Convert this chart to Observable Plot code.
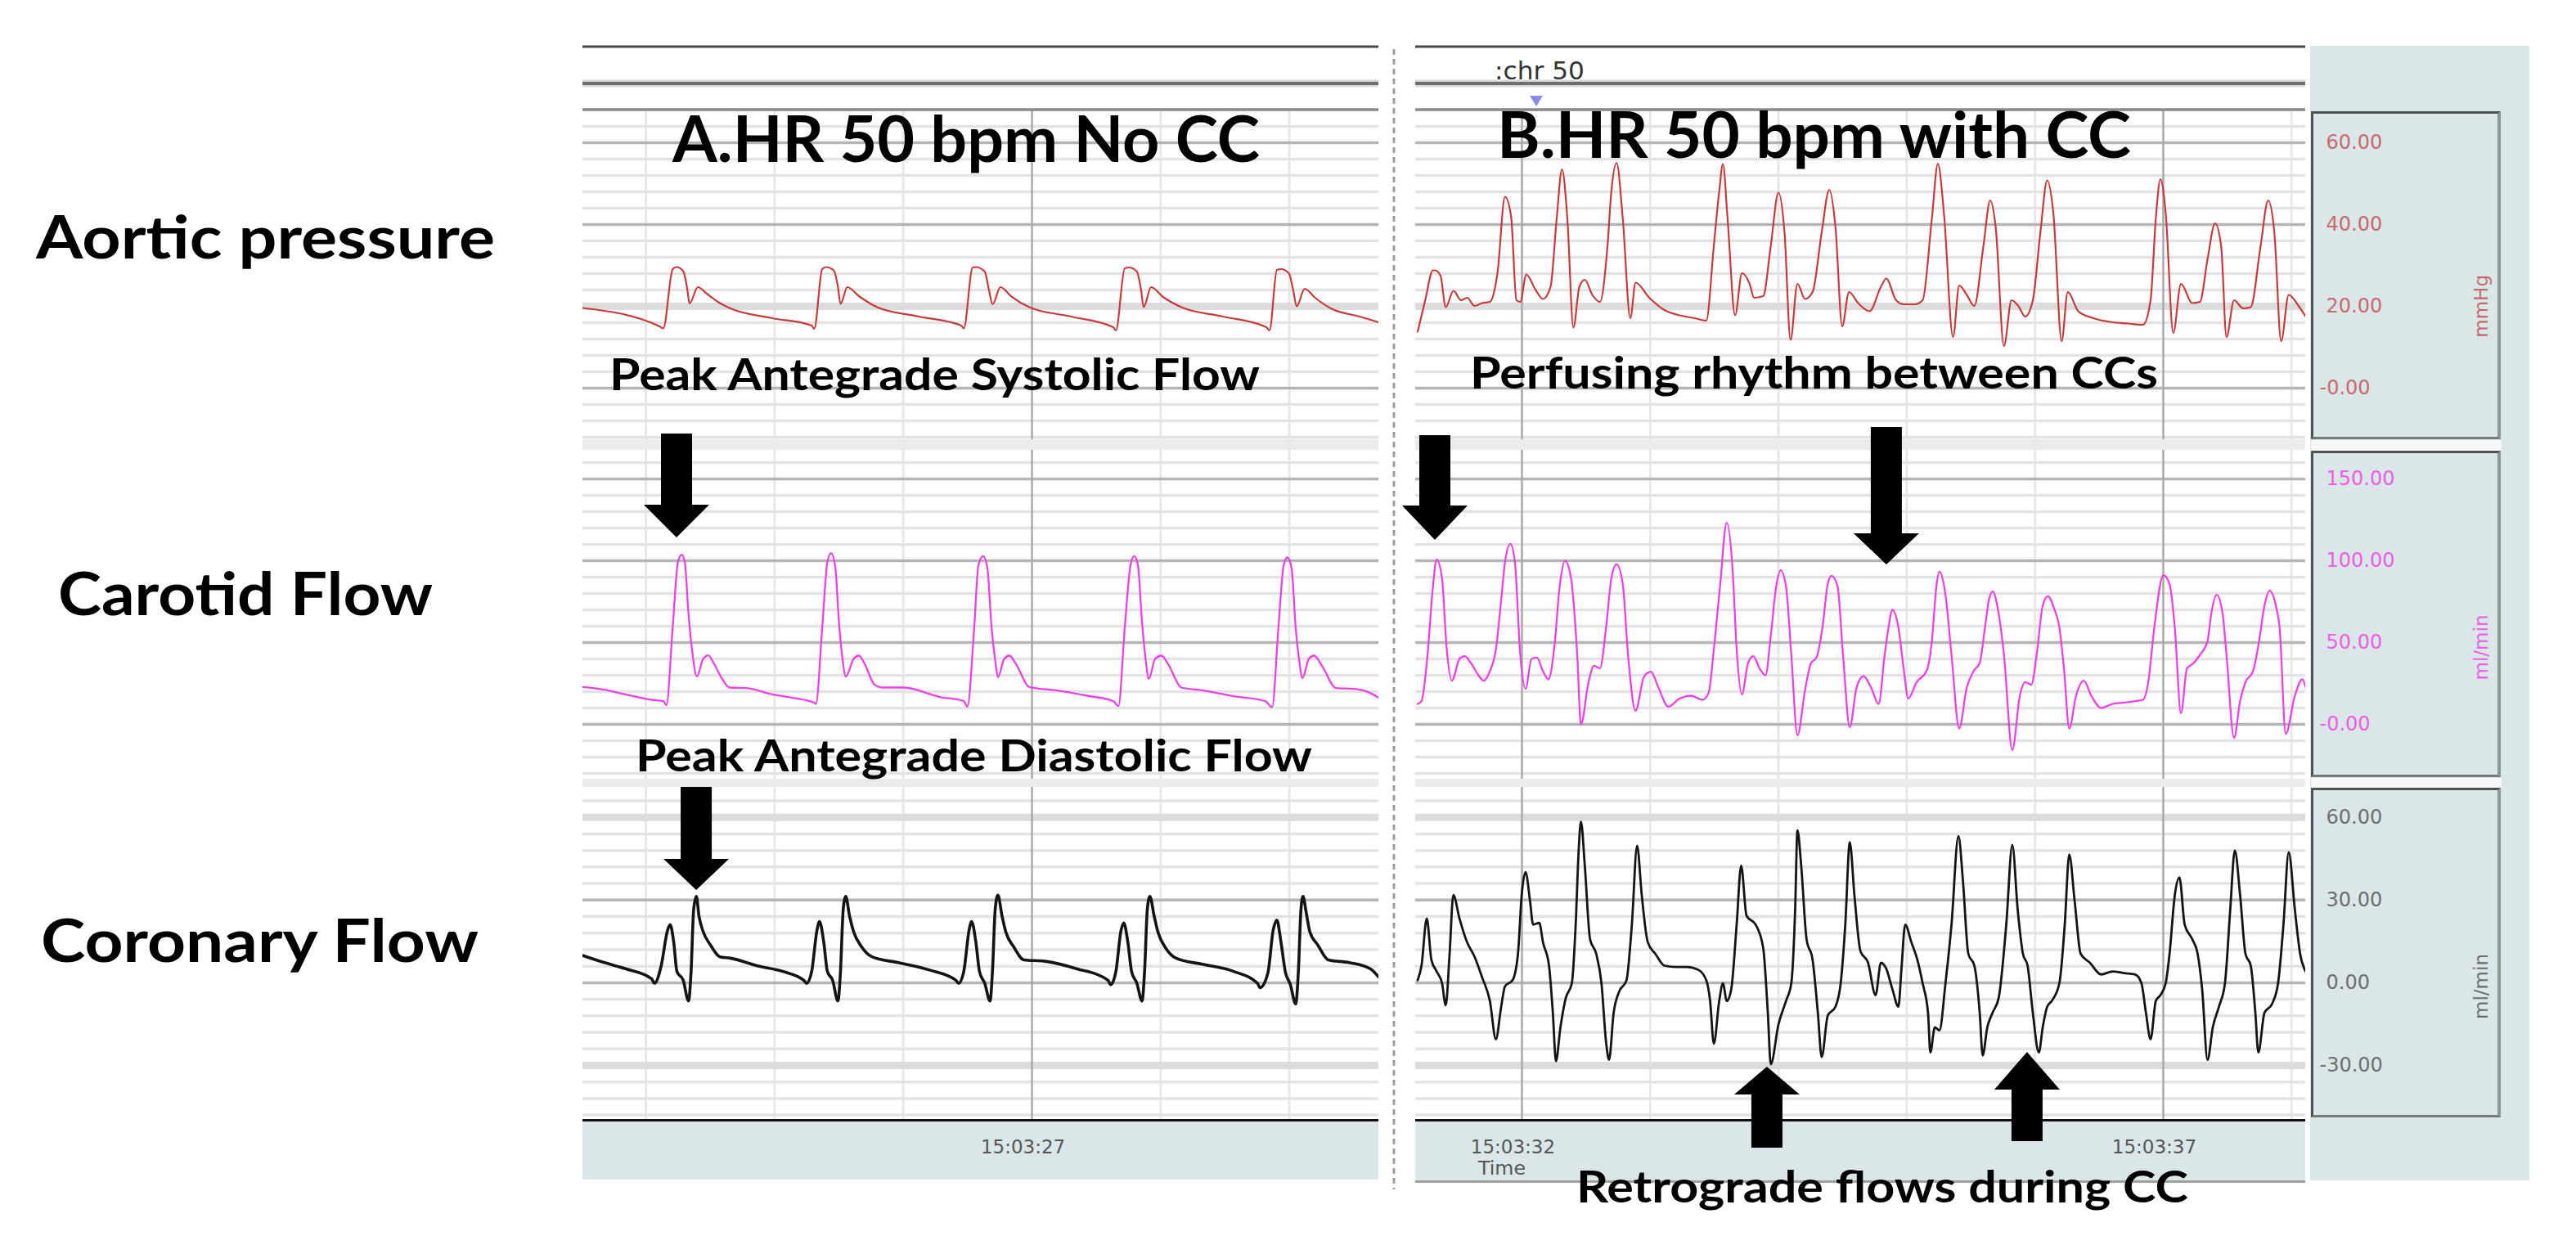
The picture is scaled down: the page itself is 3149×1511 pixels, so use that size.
<!DOCTYPE html>
<html>
<head>
<meta charset="utf-8">
<script src="https://cdn.jsdelivr.net/npm/d3@7"></script>
<script src="https://cdn.jsdelivr.net/npm/@observablehq/plot@0.6"></script>
<style>
html, body { margin: 0; padding: 0; background: #fff; }
#root { position: relative; width: 3149px; height: 1511px; overflow: hidden; background: #fff; }
#root svg { max-width: none; }
</style>
</head>
<body>
<div id="root"></div>
<script>
// ---------------- DATA (time in seconds after 15:03:00, value in channel units) ----------------
const aorticA = [[23.51,19.6],[24.106,15.1],[24.135,14.6],[24.208,29.1],[24.237,29.6],[24.29,28.6],[24.322,24.1],[24.339,20.7],[24.404,24.7],[24.473,23.1],[24.575,20.8],[24.657,19.5],[24.983,17.1],[25.288,15.3],[25.308,14.5],[25.37,29.1],[25.402,29.6],[25.459,28.8],[25.492,24.8],[25.512,20.6],[25.565,24.7],[25.655,22.5],[25.797,19.8],[26.123,17.5],[26.449,15.3],[26.47,14.6],[26.539,29.5],[26.564,29.6],[26.633,28.5],[26.665,24.1],[26.694,20.5],[26.755,24.7],[26.837,22.5],[26.979,19.8],[27.305,17.5],[27.631,14.9],[27.652,14.1],[27.721,29.3],[27.754,29.5],[27.815,28.5],[27.847,24.1],[27.868,19.8],[27.925,24.7],[28.018,22.3],[28.161,19.8],[28.487,17.5],[28.821,14.9],[28.846,14.1],[28.903,28.9],[28.935,29.1],[28.996,28.1],[29.029,24.1],[29.057,20.0],[29.119,24.3],[29.2,22.1],[29.322,19.5],[29.546,17.5],[29.695,16.1]];

const carotidA = [[23.507,22.8],[23.638,21.7],[23.841,18.3],[24.045,15.0],[24.135,14.2],[24.159,11.7],[24.208,59.2],[24.249,99.2],[24.278,103.7],[24.302,99.2],[24.331,67.5],[24.363,42.5],[24.396,29.2],[24.445,40.0],[24.485,42.2],[24.526,37.5],[24.595,27.5],[24.648,22.5],[24.779,22.2],[24.983,18.3],[25.227,15.0],[25.308,13.3],[25.321,12.5],[25.37,59.2],[25.41,99.2],[25.439,104.7],[25.472,95.8],[25.5,62.5],[25.524,42.5],[25.553,29.2],[25.614,40.0],[25.655,42.0],[25.696,37.5],[25.777,24.2],[25.838,22.5],[26.001,22.5],[26.286,16.7],[26.47,14.2],[26.498,10.8],[26.551,59.2],[26.584,97.5],[26.621,102.8],[26.653,95.8],[26.686,59.2],[26.714,39.2],[26.735,28.8],[26.784,40.0],[26.824,42.0],[26.877,36.7],[26.979,22.8],[27.183,20.8],[27.428,17.5],[27.631,14.2],[27.672,11.2],[27.721,59.2],[27.766,97.5],[27.794,102.8],[27.823,97.5],[27.855,62.5],[27.884,39.2],[27.908,27.8],[27.957,40.0],[28.006,42.0],[28.059,36.7],[28.161,22.5],[28.324,20.8],[28.568,17.2],[28.813,14.2],[28.866,10.5],[28.915,59.2],[28.956,97.5],[28.984,102.0],[29.017,95.8],[29.049,59.2],[29.078,38.3],[29.102,28.3],[29.151,40.0],[29.192,42.0],[29.253,35.8],[29.363,22.2],[29.506,21.7],[29.628,19.2],[29.695,16.2]];

const coronaryA = [[23.507,9.9],[23.678,7.3],[23.841,5.1],[24.045,1.4],[24.066,-0.2],[24.119,6.2],[24.168,19.0],[24.188,21.1],[24.216,14.7],[24.241,4.1],[24.29,0.9],[24.331,-6.6],[24.351,4.1],[24.371,26.5],[24.392,31.3],[24.412,24.3],[24.445,18.5],[24.502,13.7],[24.575,9.4],[24.657,8.9],[24.86,6.2],[25.064,4.1],[25.227,0.9],[25.247,-0.2],[25.288,4.1],[25.329,19.0],[25.349,22.2],[25.382,14.7],[25.41,4.1],[25.451,0.9],[25.492,-6.6],[25.512,4.1],[25.533,26.5],[25.553,31.3],[25.582,24.3],[25.614,18.5],[25.675,13.1],[25.757,9.4],[25.961,7.3],[26.205,4.6],[26.409,0.9],[26.429,-0.2],[26.47,4.1],[26.511,19.0],[26.531,22.2],[26.564,14.7],[26.592,4.1],[26.633,-0.2],[26.674,-6.6],[26.694,5.1],[26.714,26.5],[26.735,31.8],[26.767,24.3],[26.796,18.5],[26.857,13.1],[26.938,8.3],[27.101,7.8],[27.346,5.1],[27.591,0.9],[27.611,-0.7],[27.652,4.1],[27.692,19.0],[27.713,21.7],[27.745,14.7],[27.774,4.1],[27.815,-0.2],[27.855,-6.6],[27.876,5.1],[27.896,26.5],[27.916,31.3],[27.949,24.3],[27.978,18.5],[28.039,12.6],[28.12,8.9],[28.324,6.7],[28.568,4.1],[28.752,-0.2],[28.772,-1.8],[28.833,3.5],[28.874,19.0],[28.903,22.7],[28.935,14.7],[28.968,4.1],[29.008,-0.7],[29.049,-7.7],[29.07,4.1],[29.09,26.5],[29.106,31.3],[29.131,25.4],[29.159,18.5],[29.221,13.7],[29.302,8.3],[29.465,7.3],[29.628,5.1],[29.695,2.0]];

const aorticB = [[31.187,13.8],[31.246,21.5],[31.306,28.8],[31.323,28.8],[31.365,27.5],[31.406,19.8],[31.466,23.8],[31.525,21.5],[31.572,22.1],[31.631,20.1],[31.69,20.8],[31.75,21.1],[31.809,28.1],[31.868,46.8],[31.915,42.1],[31.957,21.5],[31.987,21.1],[32.034,27.8],[32.105,24.1],[32.164,21.8],[32.223,24.8],[32.271,41.5],[32.312,53.5],[32.354,41.5],[32.401,14.8],[32.448,24.8],[32.49,26.5],[32.549,22.8],[32.608,21.1],[32.667,34.8],[32.697,48.1],[32.738,55.1],[32.786,41.5],[32.845,17.1],[32.886,25.8],[32.993,22.1],[33.111,19.1],[33.23,17.8],[33.348,17.1],[33.437,16.5],[33.496,34.8],[33.538,48.1],[33.567,54.8],[33.603,41.5],[33.662,17.8],[33.715,28.1],[33.775,25.5],[33.81,22.1],[33.881,22.5],[33.94,34.8],[34.0,47.8],[34.047,38.1],[34.094,11.8],[34.148,25.5],[34.207,21.8],[34.266,23.5],[34.337,38.1],[34.396,48.5],[34.444,39.5],[34.497,15.1],[34.55,23.5],[34.621,20.8],[34.71,18.8],[34.799,24.8],[34.84,26.8],[34.917,21.5],[34.976,20.5],[35.065,20.5],[35.124,21.5],[35.196,41.5],[35.243,54.9],[35.29,42.8],[35.361,12.5],[35.409,25.1],[35.468,22.8],[35.527,20.1],[35.598,34.8],[35.651,45.9],[35.693,39.5],[35.758,10.3],[35.817,21.5],[35.87,20.1],[35.924,17.5],[35.983,21.5],[36.042,38.1],[36.095,50.8],[36.143,42.8],[36.208,11.5],[36.255,23.5],[36.338,18.8],[36.457,17.1],[36.605,16.1],[36.723,15.8],[36.842,15.5],[36.901,21.5],[36.942,41.5],[36.978,51.1],[37.019,42.8],[37.078,13.5],[37.138,25.5],[37.226,20.8],[37.286,21.1],[37.345,31.5],[37.404,40.3],[37.451,34.8],[37.493,12.5],[37.552,21.5],[37.623,19.5],[37.682,19.8],[37.759,34.8],[37.818,45.9],[37.866,38.1],[37.919,11.5],[37.978,22.8],[38.055,20.1],[38.11,17.5]];

const carotidB = [[31.187,12.5],[31.217,14.2],[31.264,42.5],[31.306,84.2],[31.335,100.7],[31.377,89.2],[31.412,47.5],[31.454,26.7],[31.513,40.0],[31.554,41.7],[31.602,37.5],[31.661,30.0],[31.702,26.7],[31.75,32.5],[31.797,45.8],[31.838,75.8],[31.868,99.2],[31.91,110.3],[31.945,99.2],[31.987,42.5],[32.028,21.7],[32.075,40.0],[32.117,40.8],[32.164,32.5],[32.206,27.5],[32.253,47.5],[32.294,84.2],[32.336,100.0],[32.383,89.2],[32.431,42.5],[32.46,0.0],[32.519,25.8],[32.561,35.8],[32.608,34.2],[32.656,59.2],[32.697,89.2],[32.738,97.8],[32.786,85.8],[32.827,42.5],[32.886,8.3],[32.952,29.2],[33.005,32.2],[33.064,22.5],[33.141,10.8],[33.23,15.8],[33.319,17.5],[33.407,15.0],[33.455,19.2],[33.496,45.8],[33.544,84.2],[33.597,123.3],[33.644,92.5],[33.674,45.8],[33.715,18.3],[33.763,37.5],[33.804,41.7],[33.852,34.2],[33.899,30.0],[33.94,54.2],[33.982,84.2],[34.017,94.2],[34.059,84.2],[34.1,42.5],[34.148,-6.7],[34.207,20.8],[34.254,37.5],[34.296,40.8],[34.343,59.2],[34.384,85.8],[34.414,90.8],[34.461,84.2],[34.503,42.5],[34.556,-1.7],[34.609,22.5],[34.663,29.5],[34.722,22.5],[34.781,12.5],[34.828,42.5],[34.858,59.2],[34.888,70.0],[34.935,59.2],[34.976,34.2],[35.012,15.8],[35.077,25.8],[35.154,32.5],[35.196,50.8],[35.231,84.2],[35.255,93.3],[35.302,79.2],[35.349,42.5],[35.409,-2.5],[35.468,22.5],[35.521,32.5],[35.569,37.5],[35.61,59.2],[35.64,75.8],[35.669,81.2],[35.717,67.5],[35.758,42.5],[35.823,-15.8],[35.882,17.5],[35.924,25.8],[35.971,24.2],[36.013,42.5],[36.06,72.5],[36.101,78.3],[36.149,70.8],[36.19,59.2],[36.226,34.2],[36.267,-2.5],[36.32,17.5],[36.38,26.7],[36.439,17.5],[36.516,10.0],[36.605,12.5],[36.693,13.3],[36.782,14.2],[36.842,15.0],[36.883,25.8],[36.93,59.2],[37.001,91.2],[37.049,85.8],[37.09,59.2],[37.138,6.7],[37.185,34.2],[37.238,37.5],[37.286,42.5],[37.345,50.8],[37.374,67.5],[37.416,79.2],[37.463,67.5],[37.493,42.5],[37.552,-8.3],[37.599,14.2],[37.641,25.8],[37.7,32.5],[37.747,50.8],[37.789,72.5],[37.83,81.7],[37.878,72.5],[37.907,59.2],[37.955,-5.8],[38.026,17.5],[38.085,27.5],[38.11,22.5]];

const coronaryB = [[31.187,0.9],[31.217,6.2],[31.258,23.3],[31.294,8.3],[31.335,4.1],[31.377,-0.2],[31.406,-8.2],[31.436,10.5],[31.465,31.8],[31.513,23.3],[31.572,14.7],[31.631,9.4],[31.69,1.9],[31.75,-6.6],[31.797,-20.5],[31.838,-8.7],[31.868,-1.3],[31.927,0.9],[31.969,10.5],[31.998,31.8],[32.028,40.1],[32.063,29.7],[32.087,21.1],[32.135,21.7],[32.164,14.7],[32.211,6.2],[32.241,-10.9],[32.265,-28.5],[32.3,-16.2],[32.342,-5.5],[32.389,-0.2],[32.419,21.1],[32.442,47.8],[32.46,58.5],[32.49,42.5],[32.531,15.8],[32.579,10.5],[32.62,-0.2],[32.656,-21.6],[32.679,-28.0],[32.715,-10.9],[32.756,-3.4],[32.815,0.9],[32.857,21.1],[32.898,49.7],[32.934,31.8],[32.981,14.7],[33.04,10.5],[33.111,6.2],[33.2,5.7],[33.289,5.7],[33.378,4.6],[33.437,0.9],[33.467,-6.6],[33.496,-22.1],[33.538,-6.6],[33.567,-0.2],[33.597,-6.6],[33.632,-2.3],[33.674,21.1],[33.709,42.5],[33.751,24.3],[33.822,21.1],[33.881,12.6],[33.917,-10.9],[33.94,-29.6],[34.0,-15.1],[34.059,-6.6],[34.1,-0.2],[34.13,26.5],[34.148,55.3],[34.177,42.5],[34.219,15.8],[34.266,8.3],[34.307,-10.9],[34.337,-26.9],[34.384,-12.0],[34.444,-8.7],[34.485,-0.2],[34.521,21.1],[34.556,51.0],[34.592,31.8],[34.639,11.5],[34.698,7.3],[34.757,-4.5],[34.799,7.3],[34.84,5.1],[34.888,-2.3],[34.935,-8.7],[34.959,5.1],[34.988,21.1],[35.036,14.7],[35.083,8.3],[35.124,-0.2],[35.166,-10.9],[35.184,-25.3],[35.219,-16.2],[35.255,-17.3],[35.302,-0.2],[35.349,21.1],[35.403,53.2],[35.438,37.1],[35.48,10.5],[35.527,6.2],[35.569,-10.9],[35.592,-26.4],[35.628,-16.2],[35.669,-10.9],[35.717,-5.5],[35.776,21.1],[35.823,50.0],[35.865,26.5],[35.906,10.5],[35.942,6.2],[35.983,-10.9],[36.03,-25.3],[36.06,-16.2],[36.095,-8.7],[36.131,-6.6],[36.19,-0.2],[36.232,21.1],[36.267,46.5],[36.309,29.7],[36.356,10.5],[36.427,7.3],[36.516,3.0],[36.605,4.1],[36.693,3.5],[36.782,3.0],[36.83,-0.2],[36.865,-10.9],[36.901,-20.5],[36.942,-6.6],[36.978,-4.5],[37.019,-0.2],[37.049,10.5],[37.09,31.8],[37.126,38.2],[37.167,21.1],[37.226,15.8],[37.268,10.5],[37.303,-2.3],[37.345,-28.0],[37.386,-16.2],[37.434,-8.7],[37.481,-0.2],[37.522,26.5],[37.558,48.0],[37.599,31.8],[37.641,10.5],[37.682,6.2],[37.718,-10.9],[37.741,-25.3],[37.789,-10.9],[37.848,-7.7],[37.895,-0.2],[37.937,21.1],[37.978,47.3],[38.026,26.5],[38.067,10.5],[38.11,4.1]];

const aorticTicks = [60, 40, 20, 0];
const aorticTickLabels = ["60.00", "40.00", "20.00", "-0.00"];
const carotidTicks = [150, 100, 50, 0];
const carotidTickLabels = ["150.00", "100.00", "50.00", "-0.00"];
const coronaryTicks = [60, 30, 0, -30];
const coronaryTickLabels = ["60.00", "30.00", "0.00", "-30.00"];
const unitLabels = ["mmHg", "ml/min", "ml/min"];
const rowLabels = ["Aortic pressure", "Carotid Flow", "Coronary Flow"];
const panelTitles = ["A.HR 50 bpm No CC", "B.HR 50 bpm with CC"];
const timeTicksA = [27];
const timeLabelsA = ["15:03:27"];
const timeTicksB = [32, 37];
const timeLabelsB = ["15:03:32", "15:03:37"];
const commentText = ":chr 50";
const commentTime = 32.115;
const annotationTexts = ["Peak Antegrade Systolic Flow", "Perfusing rhythm between CCs", "Peak Antegrade Diastolic Flow", "Retrograde flows during CC"];
// arrows: panel index, time of the arrow axis, direction
const arrowTimes = [[0, 24.241, "down"], [0, 24.394, "down"], [1, 31.324, "down"], [1, 34.844, "down"], [1, 33.913, "up"], [1, 35.941, "up"]];

// ---------------- LAYOUT ----------------
const root = document.getElementById("root");
function div(x, y, w, h, css) {
  const d = document.createElement("div");
  d.style.cssText = `position:absolute;left:${x}px;top:${y}px;width:${w}px;height:${h}px;box-sizing:border-box;` + (css || "");
  root.appendChild(d);
  return d;
}
function mount(node, x, y) {
  const d = document.createElement("div");
  d.style.cssText = `position:absolute;left:${x}px;top:${y}px;line-height:0;`;
  d.appendChild(node);
  root.appendChild(d);
  return node;
}

const panels = [
  {x0: 712, x1: 1685, t0: 23.51, t1: 29.695, series: [aorticA, carotidA, coronaryA], ticks: timeTicksA, labels: timeLabelsA, bottomLine: false, corW: 3.6},
  {x0: 1730, x1: 2818, t0: 31.171, t1: 38.11, series: [aorticB, carotidB, coronaryB], ticks: timeTicksB, labels: timeLabelsB, bottomLine: true, corW: 2.8}
];
const rows = [
  {top: 134, bottom: 537, domain: [-12.6, 68], minor: 4, major: 20, thick: [20], stroke: "#c73a3a", sw: 2.2, tickFill: "#c86a6a", ticks: aorticTicks, tickLabels: aorticTickLabels, unit: unitLabels[0], box: [136, 537]},
  {top: 550, bottom: 952, domain: [-33.5, 167.5], minor: 10, major: 50, thick: [], stroke: "#ec40e6", sw: 2.3, tickFill: "#ec5ee6", ticks: carotidTicks, tickLabels: carotidTickLabels, unit: unitLabels[1], box: [551, 950]},
  {top: 962, bottom: 1369, domain: [-49.9, 70.9], minor: 6, major: 30, thick: [60, -30], stroke: "#141414", sw: null, tickFill: "#6e6e6e", ticks: coronaryTicks, tickLabels: coronaryTickLabels, unit: unitLabels[2], box: [963, 1366]}
];
const isMult = (v, m) => Math.abs(v / m - Math.round(v / m)) < 1e-6;

// right-hand axis column background
div(2824, 56, 268, 1387, "background:#dae6e7;");

const xScales = [];
panels.forEach((p, pi) => {
  const w = p.x1 - p.x0;
  const secs = d3.range(Math.ceil(p.t0), p.t1);
  const secMajor = secs.filter(s => p.ticks.includes(s));
  const secMinor = secs.filter(s => !p.ticks.includes(s));
  rows.forEach((r, ri) => {
    const h = r.bottom - r.top;
    const all = d3.range(Math.ceil(r.domain[0] / r.minor) * r.minor, r.domain[1] + 1e-6, r.minor).map(v => +v.toFixed(6));
    const majorV = all.filter(v => isMult(v, r.major) && !r.thick.includes(v));
    const minorV = all.filter(v => !isMult(v, r.major) && !r.thick.includes(v));
    const chart = Plot.plot({
      width: w, height: h, margin: 0,
      style: {background: "transparent", overflow: "hidden"},
      x: {domain: [p.t0, p.t1], axis: null},
      y: {domain: r.domain, axis: null},
      marks: [
        Plot.ruleX(secMinor, {stroke: "#e8e8e8", strokeWidth: 3}),
        Plot.ruleY(minorV, {stroke: "#e3e3e3", strokeWidth: 3.5}),
        Plot.ruleY(r.thick, {stroke: "#dcdcdc", strokeWidth: 9}),
        Plot.ruleY(majorV, {stroke: "#b4b4b4", strokeWidth: 3.5}),
        Plot.ruleX(secMajor, {stroke: "#a9a9a9", strokeWidth: 2.5}),
        Plot.line(p.series[ri], {x: d => d[0], y: d => d[1], stroke: r.stroke, strokeWidth: r.sw ?? p.corW, curve: "monotone-x", clip: true})
      ]
    });
    mount(chart, p.x0, r.top);
    if (ri === 0) xScales[pi] = chart.scale("x");
  });
  // row separator bands
  div(p.x0, 537, w, 13, "background:#ebebeb;");
  div(p.x0, 952, w, 10, "background:#ebebeb;");
  // time band
  div(p.x0, 1368, w, p.bottomLine ? 78 : 74, "background:#dae6e7;border-top:3px solid #111;" + (p.bottomLine ? "border-bottom:3px solid #9aa2a2;" : ""));
  const tb = Plot.plot({
    width: w, height: 74, margin: 0,
    style: {background: "transparent", overflow: "visible"},
    x: {domain: [p.t0, p.t1], axis: null},
    marks: [
      Plot.text(p.ticks, {x: d => d, text: (d, i) => p.labels[i], frameAnchor: "top", dy: 24, dx: -11, fontSize: 23, fill: "#555", fontFamily: "DejaVu Sans"})
    ]
  });
  mount(tb, p.x0, 1369);
});

// axis boxes with tick labels and units
rows.forEach((r, ri) => {
  div(2825, r.box[0], 232, r.box[1] - r.box[0], "border:3px solid #4d5252;border-right:4px solid #8c9595;border-bottom:3px solid #727a7a;");
  const pos = r.ticks.map((t, i) => ({t, label: r.tickLabels[i]}));
  const chart = Plot.plot({
    width: 232, height: r.bottom - r.top, margin: 0,
    style: {background: "transparent", overflow: "visible"},
    y: {domain: r.domain, axis: null},
    marks: [
      Plot.text(pos.filter(d => !d.label.startsWith("-")), {y: "t", text: "label", frameAnchor: "left", dx: 18, textAnchor: "start", fontSize: 24, fill: r.tickFill, fontFamily: "DejaVu Sans"}),
      Plot.text(pos.filter(d => d.label.startsWith("-")), {y: "t", text: "label", frameAnchor: "left", dx: 10, textAnchor: "start", fontSize: 24, fill: r.tickFill, fontFamily: "DejaVu Sans"}),
      Plot.text([r.unit], {text: d => d, frameAnchor: "right", dx: -24, rotate: -90, fontSize: 23, fill: r.tickFill, fontFamily: "DejaVu Sans"})
    ]
  });
  mount(chart, 2825, r.top);
});
// white gaps between axis boxes
div(2825, 538, 233, 13, "background:#f6f8f8;");
div(2825, 951, 233, 12, "background:#f6f8f8;");

// ---------------- ANNOTATION OVERLAY ----------------
const svg = d3.create("svg").attr("width", 3149).attr("height", 1511)
  .style("position", "absolute").style("left", "0px").style("top", "0px").style("pointer-events", "none");
panels.forEach(p => {
  svg.append("line").attr("x1", p.x0).attr("x2", p.x1).attr("y1", 57).attr("y2", 57).attr("stroke", "#474747").attr("stroke-width", 3);
  svg.append("line").attr("x1", p.x0).attr("x2", p.x1).attr("y1", 102).attr("y2", 102).attr("stroke", "#d8d8d8").attr("stroke-width", 9);
  svg.append("line").attr("x1", p.x0).attr("x2", p.x1).attr("y1", 102).attr("y2", 102).attr("stroke", "#6e6e6e").attr("stroke-width", 4);
  svg.append("line").attr("x1", p.x0).attr("x2", p.x1).attr("y1", 134).attr("y2", 134).attr("stroke", "#8a8a8a").attr("stroke-width", 3.5);
});
svg.append("line").attr("x1", 1704).attr("x2", 1704).attr("y1", 60).attr("y2", 1454)
  .attr("stroke", "#9c9c9c").attr("stroke-width", 3).attr("stroke-dasharray", "7 5");

function txt(str, x, y, size, len, opts = {}) {
  svg.append("text").attr("x", x).attr("y", y).text(str)
    .attr("font-family", opts.family || "Lato, 'Open Sans', sans-serif")
    .attr("font-weight", opts.weight || 700)
    .attr("font-size", size)
    .attr("fill", opts.fill || "#000")
    .attr("textLength", len).attr("lengthAdjust", "spacingAndGlyphs");
}
// row labels
txt(rowLabels[0], 44, 316, 72, 561);
txt(rowLabels[1], 71, 752, 72, 458);
txt(rowLabels[2], 50, 1176, 72, 535);
// panel titles
txt(panelTitles[0], 822, 198, 78, 718);
txt(panelTitles[1], 1830, 193, 78, 775);
// annotation texts
txt(annotationTexts[0], 745, 477, 53, 795);
txt(annotationTexts[1], 1797, 475, 53, 841);
txt(annotationTexts[2], 777, 943, 53, 827);
txt(annotationTexts[3], 1927, 1470, 53, 748);
// comment marker
const cx = panels[1].x0 + xScales[1].apply(commentTime);
txt(commentText, cx - 51, 97, 31, 110, {family: "DejaVu Sans", weight: 400, fill: "#333"});
svg.append("path").attr("d", `M${cx - 8},117 L${cx + 8},117 L${cx},130 Z`).attr("fill", "#8a8af0");
txt("Time", 1807, 1436, 23, 58, {family: "DejaVu Sans", weight: 400, fill: "#555"});

// block arrows
const arrowGeom = [
  {top: 530, base: 617, tip: 657},
  {top: 962, base: 1050, tip: 1088},
  {top: 532, base: 618, tip: 660},
  {top: 522, base: 652, tip: 690},
  {top: 1403, base: 1338, tip: 1304},
  {top: 1395, base: 1332, tip: 1286}
];
arrowTimes.forEach(([pi, t, dir], i) => {
  const g = arrowGeom[i];
  const ax = panels[pi].x0 + xScales[pi].apply(t);
  const sh = 19, hh = 40;
  const d = `M${ax - sh},${g.top} L${ax + sh},${g.top} L${ax + sh},${g.base} L${ax + hh},${g.base} L${ax},${g.tip} L${ax - hh},${g.base} L${ax - sh},${g.base} Z`;
  svg.append("path").attr("d", d).attr("fill", "#000");
});
root.appendChild(svg.node());
</script>
</body>
</html>
